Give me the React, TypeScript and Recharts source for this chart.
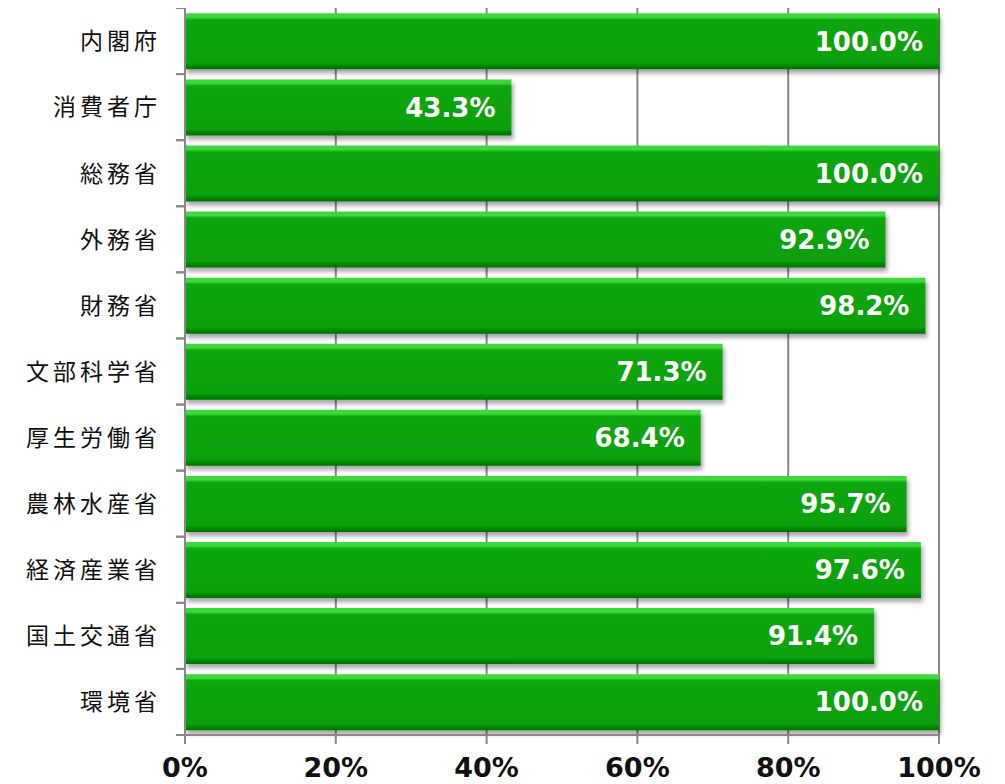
import { BarChart, Bar, XAxis, YAxis, CartesianGrid, LabelList } from "recharts";

const MINISTRIES = [
  "内閣府", "消費者庁", "総務省", "外務省", "財務省", "文部科学省",
  "厚生労働省", "農林水産省", "経済産業省", "国土交通省", "環境省",
];
const RATES = [100, 43.3, 100, 92.9, 98.2, 71.3, 68.4, 95.7, 97.6, 91.4, 100];
const X_TICKS = [0, 20, 40, 60, 80, 100];

const chartData = MINISTRIES.map((name, i) => ({ name, rate: RATES[i] }));

const AXIS_X = 177;
const PLOT_H = 727;
const BAND = PLOT_H / MINISTRIES.length;

function MinistryTick(props: any) {
  const { x, y, payload } = props;
  return (
    <g>
      <line x1={AXIS_X - 9} x2={AXIS_X} y1={y - BAND / 2} y2={y - BAND / 2} stroke="#888" strokeWidth={2} />
      <line x1={AXIS_X - 9} x2={AXIS_X} y1={y + BAND / 2} y2={y + BAND / 2} stroke="#888" strokeWidth={2} />
      <text
        x={x}
        y={y}
        dy="0.36em"
        textAnchor="end"
        fontSize={23}
        letterSpacing={4}
        fill="#111"
        fontFamily="'Noto Sans CJK JP', sans-serif"
      >
        {payload.value}
      </text>
    </g>
  );
}

export default function App() {
  return (
    <BarChart
      width={997}
      height={776}
      data={chartData}
      layout="vertical"
      margin={{ top: 0, right: 66, bottom: 9, left: 0 }}
      barCategoryGap="8%"
    >
      <defs>
        <linearGradient id="barGreen" x1="0" y1="0" x2="0" y2="1">
          <stop offset="0%" stopColor="#3cd83c" />
          <stop offset="7%" stopColor="#3cd83c" />
          <stop offset="12%" stopColor="#0aa60a" />
          <stop offset="88%" stopColor="#07a007" />
          <stop offset="100%" stopColor="#057005" />
        </linearGradient>
        <filter id="barShadow" x="-5%" y="-20%" width="110%" height="150%">
          <feDropShadow dx={2} dy={4} stdDeviation={2} floodColor="#000" floodOpacity={0.35} />
        </filter>
      </defs>
      <CartesianGrid horizontal={false} vertical stroke="#888" strokeWidth={2} />
      <XAxis
        type="number"
        domain={[0, 100]}
        ticks={X_TICKS}
        tickFormatter={(v: number) => `${v}%`}
        stroke="#888"
        strokeWidth={2}
        tickSize={9}
        tickMargin={14}
        height={40}
        tick={{ fontSize: 27, fontWeight: "bold", fill: "#111", fontFamily: "'DejaVu Sans', sans-serif" }}
      />
      <YAxis
        type="category"
        dataKey="name"
        width={AXIS_X}
        stroke="#888"
        strokeWidth={2}
        tickLine={false}
        tickSize={9}
        tickMargin={15}
        tick={<MinistryTick />}
        interval={0}
      />
      <Bar dataKey="rate" fill="url(#barGreen)" filter="url(#barShadow)" isAnimationActive={false}>
        <LabelList
          dataKey="rate"
          position="insideRight"
          offset={16}
          formatter={(v: any) => `${Number(v).toFixed(1)}%`}
          style={{ fill: "#fff", fontSize: 26, fontWeight: "bold", fontFamily: "'DejaVu Sans', sans-serif" }}
        />
      </Bar>
    </BarChart>
  );
}
